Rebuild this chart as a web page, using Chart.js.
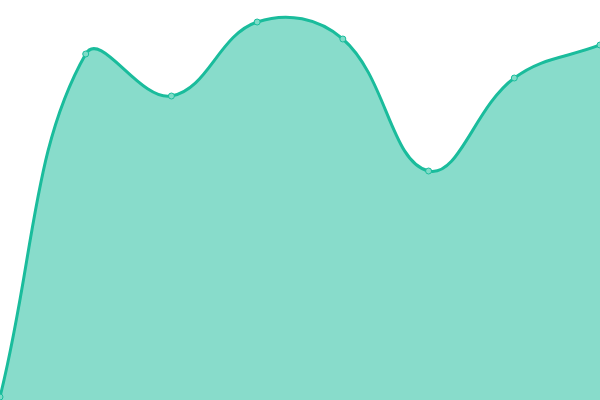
<!DOCTYPE html>
<html><head><meta charset="utf-8">
<script src="https://cdn.jsdelivr.net/npm/chart.js@4"></script>
<style>html,body{margin:0;padding:0;background:#fff}#wrap{width:600px;height:400px}</style>
</head><body><div id="wrap"><canvas id="c"></canvas></div>
<script>
const labels = ["A","B","C","D","E","F","G","H"];
const values = [0.75, 86.5, 76, 94.5, 90.25, 57.25, 80.5, 88.75];
const LC = Chart.LineController || (Chart.registry && Chart.registry.getController('line'));
if (LC) { LC.prototype.getMaxOverflow = function () { return 0; }; }
new Chart(document.getElementById('c'), {
  type: 'line',
  data: { labels: labels, datasets: [{
    data: values,
    fill: 'start',
    backgroundColor: 'rgba(26,188,156,0.52)',
    borderColor: '#1abc9c',
    borderWidth: 3,
    tension: 0.4,
    pointRadius: 3,
    pointBorderWidth: 1,
    pointBackgroundColor: '#7fdcc8',
    pointBorderColor: '#1abc9c',
    clip: false
  }]},
  options: {
    responsive: true, maintainAspectRatio: false, animation: false,
    layout: { padding: 0 },
    plugins: { legend: { display: false }, tooltip: { enabled: false } },
    scales: {
      x: { display: false, offset: false },
      y: { display: false, min: 0, max: 100 }
    }
  }
});
</script></body></html>
